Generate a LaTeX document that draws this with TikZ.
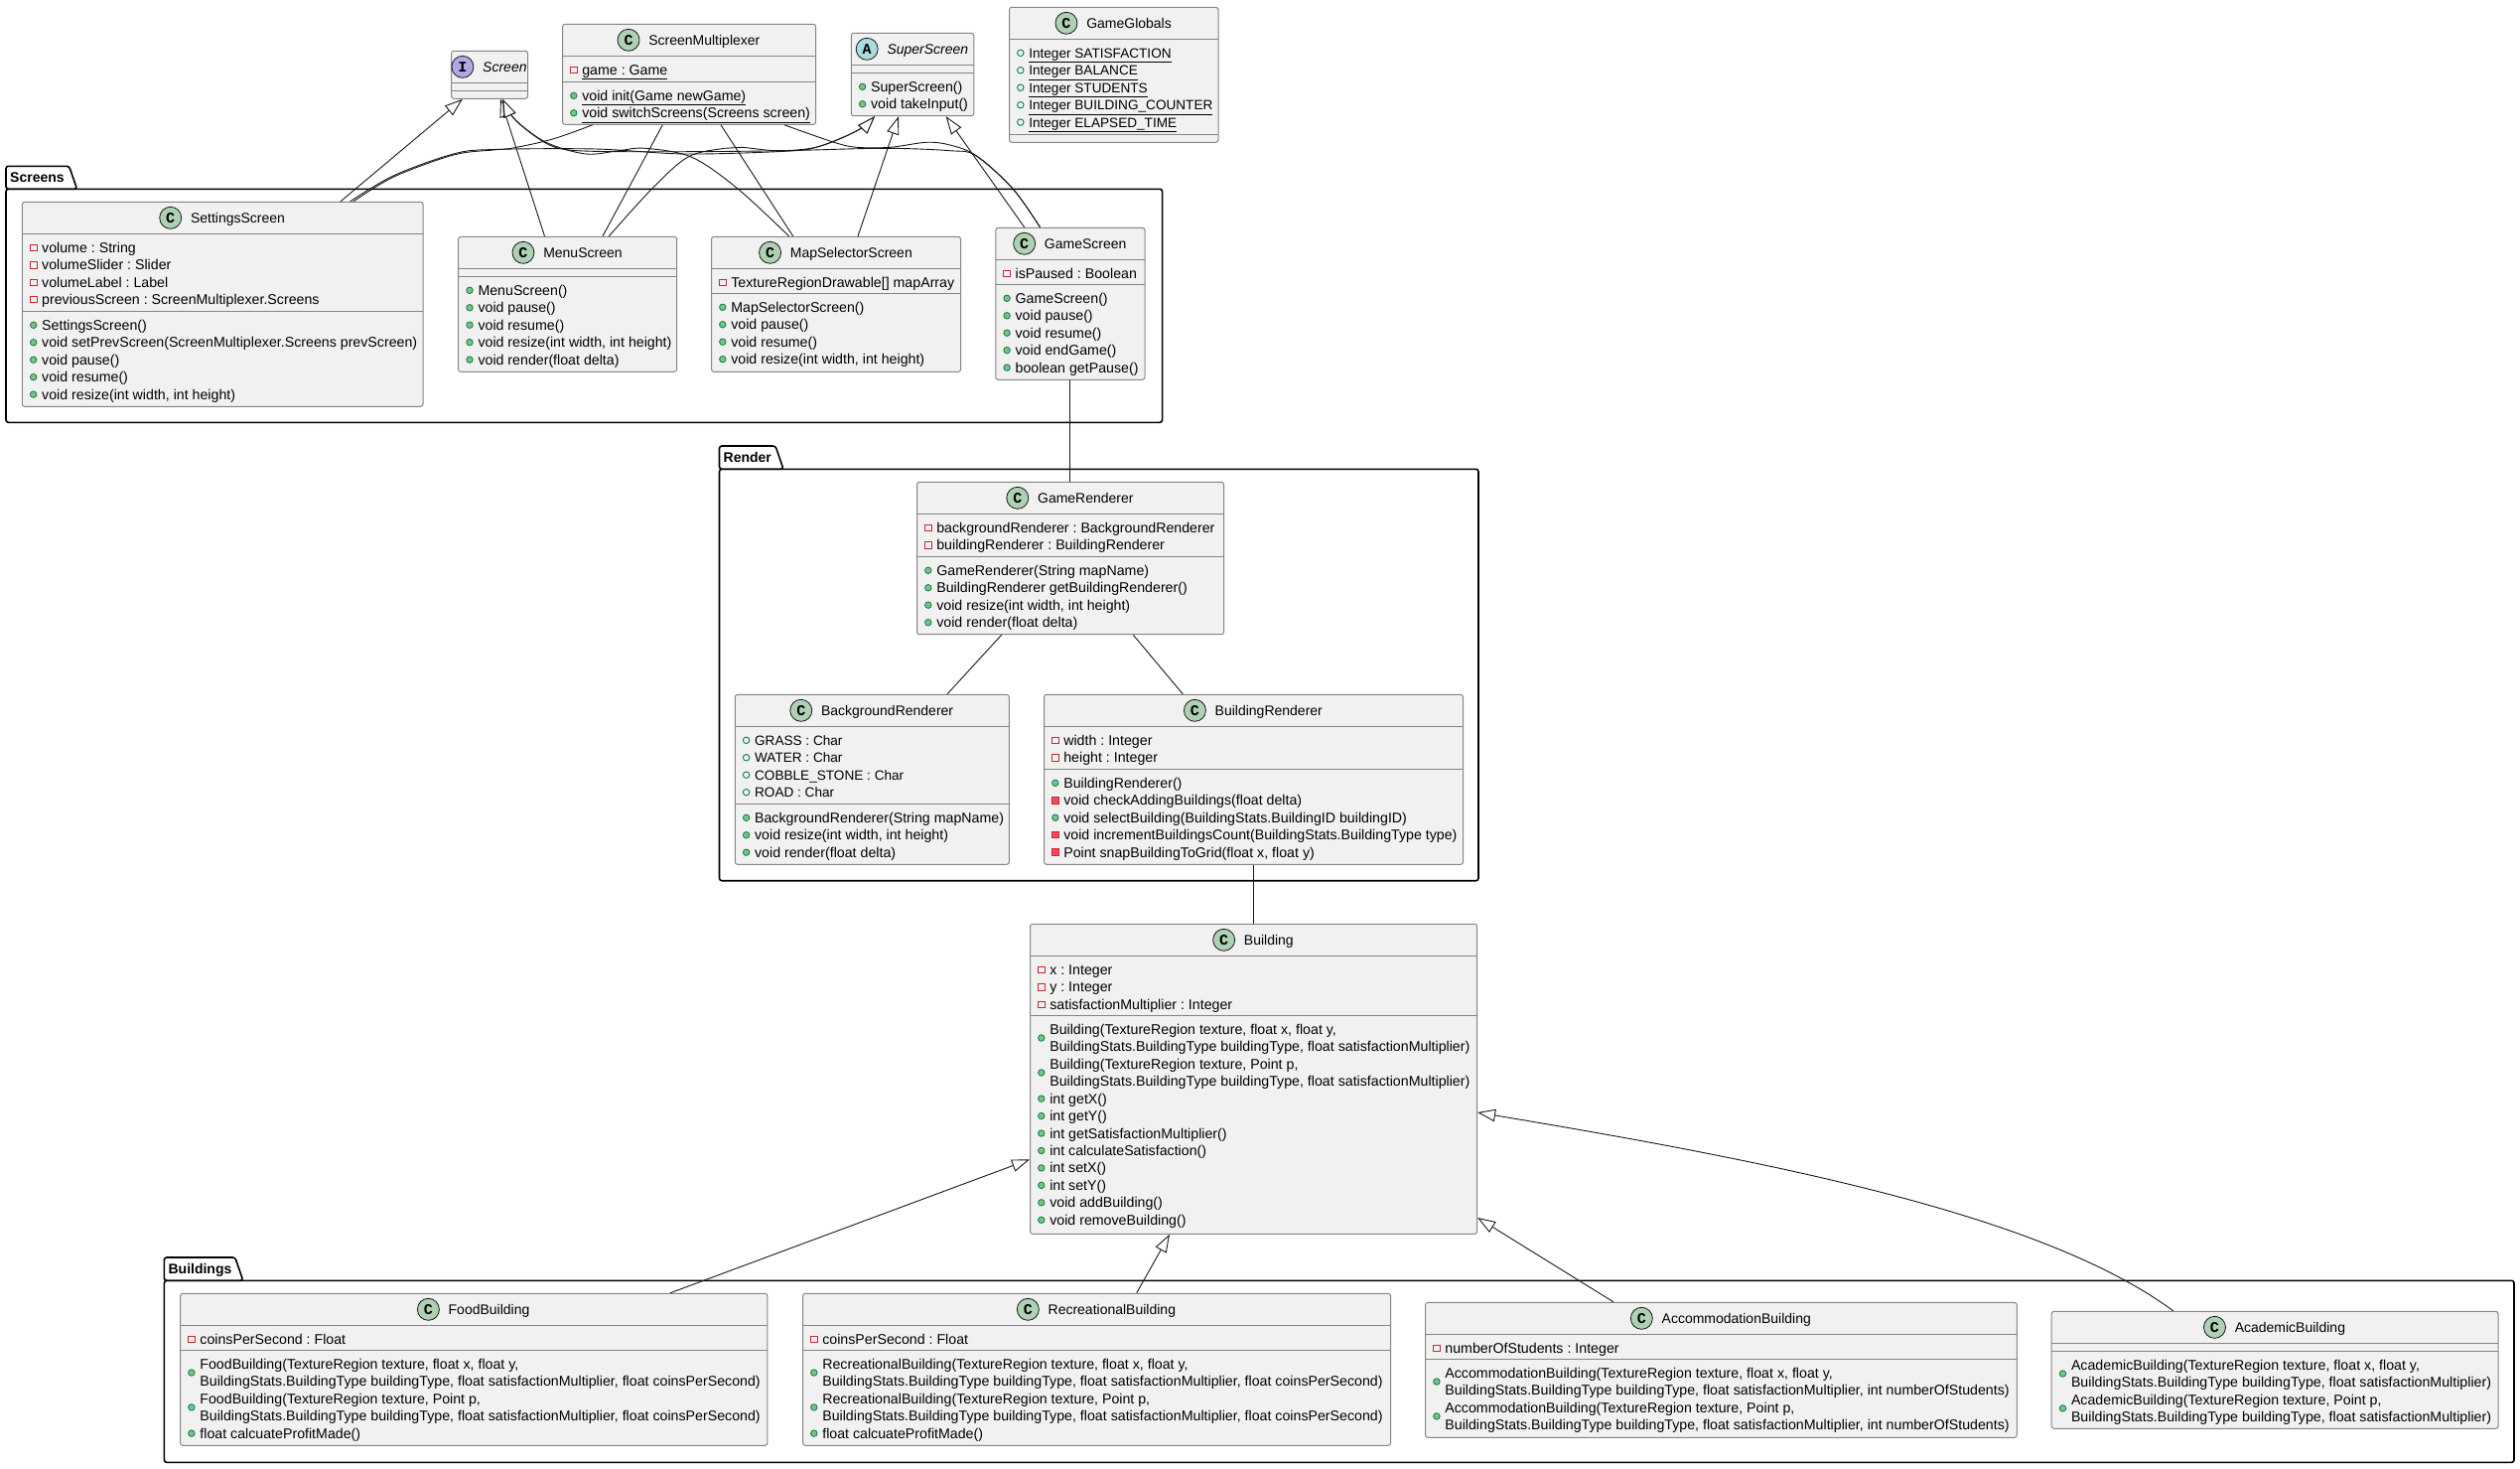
\documentclass[tikz,border=0pt]{standalone}
\usepackage{fontspec}
\setmainfont{Liberation Sans}
\newfontfamily\iconfont{Liberation Mono}
\usetikzlibrary{arrows.meta,positioning}
\definecolor{boxfill}{HTML}{F1F1F1}
\definecolor{boxline}{HTML}{858585}
\definecolor{wireline}{HTML}{181818}
\definecolor{iconcfill}{HTML}{ADD1B2}
\definecolor{iconafill}{HTML}{A9DCDF}
\definecolor{iconifill}{HTML}{B4A7E5}
\definecolor{publine}{HTML}{038048}
\definecolor{pubfill}{HTML}{84BE84}
\definecolor{privline}{HTML}{C82930}
\definecolor{privfill}{HTML}{F24D5C}
\tikzset{
    classbody/.style={draw=boxline, fill=boxfill, line width=1pt, rounded corners=2.5pt, inner sep=0pt},
    sepline/.style={draw=boxline, line width=1pt},
    classname/.style={inner sep=0pt, text height=12pt, text depth=2pt, font=\fontsize{14}{16}\selectfont},
    member/.style={anchor=west, inner sep=0pt, text height=12pt, text depth=2pt, font=\fontsize{14.2}{16}\selectfont\frenchspacing},
    icon/.style={circle, draw=wireline, line width=.8pt, minimum size=22pt, inner sep=0pt, text=black,
        font=\iconfont\fontsize{15}{15}\selectfont\bfseries},
    iconc/.style={icon, fill=iconcfill, node contents={C}},
    icona/.style={icon, fill=iconafill, node contents={A}},
    iconi/.style={icon, fill=iconifill, node contents={I}},
    pub/.style={circle, draw=publine, fill=pubfill, line width=.8pt, minimum size=6.5pt, inner sep=0pt},
    pubtwo/.style={pub, yshift=-8.7pt},
    pubf/.style={circle, draw=publine, line width=.9pt, minimum size=6.5pt, inner sep=0pt},
    priv/.style={rectangle, draw=privline, line width=.9pt, minimum size=6.5pt, inner sep=0pt},
    privm/.style={rectangle, draw=privline, fill=privfill, line width=.9pt, minimum size=6.5pt, inner sep=0pt},
    blank/.style={inner sep=0pt, minimum size=1pt},
    pkgline/.style={draw=black, line width=1.6pt, rounded corners=2.5pt},
    pkgname/.style={anchor=west, inner sep=0pt, text height=12pt, text depth=2pt, font=\fontsize{14}{16}\selectfont\bfseries},
    wire/.style={draw=wireline, line width=.9pt},
    extend/.style={wire, ->},
}

% capitals run a little narrower
\newcommand{\capsrow}[1]{{\fontsize{13.6}{16}\selectfont #1}}
% name, icon, title, x1, y1, x2, y2, first and second separator
\newcommand{\umlclass}[9]{
    \node[classbody, minimum width={(#6-#4)*1pt}, minimum height={(#7-#5)*1pt}] (#1) at ({(#4+#6)/2},{(#5+#7)/2}) {};
    \node[classname] (#1-title) at ({(#4+#6)/2+15.3},{#5+16}) {#3};
    \node[name=#1-icon, #2, left=8.7pt of #1-title];
    \draw[sepline] (#4,#8) -- (#6,#8);
    \draw[sepline] (#4,#9) -- (#6,#9);
}
% name, left of box, y of first row, rows
\newcommand{\umlrows}[4]{
    \foreach \mk/\txt [count=\i] in {#4} {
        \node[\mk] (#1-m\i) at ({#2+11.3},{#3+(\i-1)*17.45}) {};
        \node[member] (#1-t\i) at ({#2+19.6},{#3+(\i-1)*17.45}) {\txt};
    }
}
% name, title, x1, line, x2, bottom, tab top, tab right
\newcommand{\umlpackage}[8]{
    \draw[pkgline] (#3,#7) -- (#8-8,#7) -- (#8,#4) -- (#3,#4) -- cycle;
    \draw[pkgline] (#3,#4) rectangle (#5,#6);
    \node[pkgname] (#1) at ({#3+4},{(#7+#4)/2}) {#2};
}

\begin{document}
\begin{tikzpicture}[x=1pt, y=-1pt, >={Triangle[length=18pt, width=12.5pt, fill=white]}]
    \useasboundingbox (0,0) rectangle (2538,1478);

    \umlpackage{screens}{Screens}{6}{190.3}{1170.6}{425.3}{167.3}{77.6}
    \umlpackage{render}{Render}{724.5}{472.3}{1489}{886.7}{449}{789}
    \umlpackage{buildings}{Buildings}{165.4}{1289.3}{2532}{1472.3}{1266}{244.8}

    \umlclass{Screen}{iconi}{\textit{Screen}}{454.6}{51.3}{531.6}{99.3}{83.3}{91.3}
    \umlclass{Multiplexer}{iconc}{ScreenMultiplexer}{566.5}{24.3}{821.6}{125.3}{56.3}{82.3}
    \umlrows{MultiplexerA}{566.5}{70.3}{priv/\underline{game : Game}}
    \umlrows{MultiplexerB}{566.5}{96.3}{pub/\underline{void init(Game newGame)},
        pub/\underline{void switchScreens(Screens screen)}}
    \umlclass{Super}{icona}{\textit{SuperScreen}}{857.3}{33.3}{980.8}{116.7}{65.3}{73.3}
    \umlrows{Super}{857.3}{87.3}{pub/SuperScreen(), pub/void takeInput()}
    \umlclass{Globals}{iconc}{GameGlobals}{1016.5}{7.3}{1227}{143.3}{39.3}{135.3}
    \umlrows{Globals}{1016.5}{53.3}{pubf/\capsrow{\underline{Integer SATISFACTION}},
        pubf/\capsrow{\underline{Integer BALANCE}},
        pubf/\capsrow{\underline{Integer STUDENTS}},
        pubf/\capsrow{\underline{Integer BUILDING\_COUNTER}},
        pubf/\capsrow{\underline{Integer ELAPSED\_TIME}}}

    \umlclass{Settings}{iconc}{SettingsScreen}{22.4}{203.3}{426}{409.3}{235.3}{313.3}
    \umlrows{SettingsA}{22.4}{249.3}{priv/volume : String, priv/volumeSlider : Slider,
        priv/volumeLabel : Label, priv/previousScreen : ScreenMultiplexer.Screens}
    \umlrows{SettingsB}{22.4}{327.3}{pub/SettingsScreen(),
        pub/void setPrevScreen(ScreenMultiplexer.Screens prevScreen),
        pub/void pause(), pub/void resume(), pub/{void resize(int width, int height)}}
    \umlclass{Menu}{iconc}{MenuScreen}{461.7}{238.3}{681.6}{374.3}{270.3}{278.3}
    \umlrows{Menu}{461.7}{292.3}{pub/MenuScreen(), pub/void pause(), pub/void resume(),
        pub/{void resize(int width, int height)}, pub/void render(float delta)}
    \umlclass{MapSel}{iconc}{MapSelectorScreen}{716.5}{238.3}{967.6}{374.3}{270.3}{295.3}
    \umlrows{MapSelA}{716.5}{284.3}{priv/{TextureRegionDrawable[] mapArray}}
    \umlrows{MapSelB}{716.5}{309.3}{pub/MapSelectorScreen(), pub/void pause(), pub/void resume(),
        pub/{void resize(int width, int height)}}
    \umlclass{GameScr}{iconc}{GameScreen}{1002.8}{229.3}{1153}{382.3}{261.3}{286.3}
    \umlrows{GameScrA}{1002.8}{275.3}{priv/isPaused : Boolean}
    \umlrows{GameScrB}{1002.8}{300.3}{pub/GameScreen(), pub/void pause(), pub/void resume(),
        pub/void endGame(), pub/boolean getPause()}

    \umlclass{GameRen}{iconc}{GameRenderer}{923.5}{485.3}{1232.6}{638.7}{517.3}{560.3}
    \umlrows{GameRenA}{923.5}{531.3}{priv/backgroundRenderer : BackgroundRenderer,
        priv/buildingRenderer : BuildingRenderer}
    \umlrows{GameRenB}{923.5}{574.3}{pub/GameRenderer(String mapName),
        pub/BuildingRenderer getBuildingRenderer(),
        pub/{void resize(int width, int height)}, pub/void render(float delta)}
    \umlclass{BackRen}{iconc}{BackgroundRenderer}{740.3}{699.3}{1016.3}{870.3}{731.3}{809.3}
    \umlrows{BackRenA}{740.3}{745.3}{pubf/\capsrow{GRASS : Char}, pubf/\capsrow{WATER : Char},
        pubf/\capsrow{COBBLE\_STONE : Char}, pubf/\capsrow{ROAD : Char}}
    \umlrows{BackRenB}{740.3}{823.3}{pub/BackgroundRenderer(String mapName),
        pub/{void resize(int width, int height)}, pub/void render(float delta)}
    \umlclass{BuildRen}{iconc}{BuildingRenderer}{1051.5}{699.3}{1473.5}{870.3}{731.3}{774.3}
    \umlrows{BuildRenA}{1051.5}{745.3}{priv/width : Integer, priv/height : Integer}
    \umlrows{BuildRenB}{1051.5}{788.3}{pub/BuildingRenderer(),
        privm/void checkAddingBuildings(float delta),
        pub/void selectBuilding(BuildingStats.BuildingID buildingID),
        privm/void incrementBuildingsCount(BuildingStats.BuildingType type),
        privm/{Point snapBuildingToGrid(float x, float y)}}

    \umlclass{Building}{iconc}{Building}{1037.5}{930.3}{1487.6}{1242.3}{962.3}{1022.3}
    \umlrows{BuildingA}{1037.5}{976.3}{priv/x : Integer, priv/y : Integer,
        priv/satisfactionMultiplier : Integer}
    \umlrows{BuildingB}{1037.5}{1036.3}{pubtwo/{Building(TextureRegion texture, float x, float y,},
        blank/{BuildingStats.BuildingType buildingType, float satisfactionMultiplier)},
        pubtwo/{Building(TextureRegion texture, Point p,},
        blank/{BuildingStats.BuildingType buildingType, float satisfactionMultiplier)},
        pub/int getX(), pub/int getY(), pub/int getSatisfactionMultiplier(),
        pub/int calculateSatisfaction(), pub/int setX(), pub/int setY(),
        pub/void addBuilding(), pub/void removeBuilding()}

    \umlclass{Food}{iconc}{FoodBuilding}{181.6}{1302.3}{772.9}{1455.3}{1334.3}{1359.3}
    \umlrows{FoodA}{181.6}{1348.3}{priv/coinsPerSecond : Float}
    \umlrows{FoodB}{181.6}{1373.3}{pubtwo/{FoodBuilding(TextureRegion texture, float x, float y,},
        blank/{BuildingStats.BuildingType buildingType, float satisfactionMultiplier, float coinsPerSecond)},
        pubtwo/{FoodBuilding(TextureRegion texture, Point p,},
        blank/{BuildingStats.BuildingType buildingType, float satisfactionMultiplier, float coinsPerSecond)},
        pub/float calcuateProfitMade()}
    \umlclass{Recreation}{iconc}{RecreationalBuilding}{808.5}{1302.3}{1400.6}{1455.3}{1334.3}{1359.3}
    \umlrows{RecreationA}{808.5}{1348.3}{priv/coinsPerSecond : Float}
    \umlrows{RecreationB}{808.5}{1373.3}{pubtwo/{RecreationalBuilding(TextureRegion texture, float x, float y,},
        blank/{BuildingStats.BuildingType buildingType, float satisfactionMultiplier, float coinsPerSecond)},
        pubtwo/{RecreationalBuilding(TextureRegion texture, Point p,},
        blank/{BuildingStats.BuildingType buildingType, float satisfactionMultiplier, float coinsPerSecond)},
        pub/float calcuateProfitMade()}
    \umlclass{Accommodation}{iconc}{AccommodationBuilding}{1435.6}{1311.3}{2031.3}{1447.3}{1343.3}{1368.3}
    \umlrows{AccommodationA}{1435.6}{1357.3}{priv/numberOfStudents : Integer}
    \umlrows{AccommodationB}{1435.6}{1382.3}{pubtwo/{AccommodationBuilding(TextureRegion texture, float x, float y,},
        blank/{BuildingStats.BuildingType buildingType, float satisfactionMultiplier, int numberOfStudents)},
        pubtwo/{AccommodationBuilding(TextureRegion texture, Point p,},
        blank/{BuildingStats.BuildingType buildingType, float satisfactionMultiplier, int numberOfStudents)}}
    \umlclass{Academic}{iconc}{AcademicBuilding}{2066.2}{1320.3}{2516}{1438.3}{1352.3}{1360.3}
    \umlrows{Academic}{2066.2}{1374.3}{pubtwo/{AcademicBuilding(TextureRegion texture, float x, float y,},
        blank/{BuildingStats.BuildingType buildingType, float satisfactionMultiplier)},
        pubtwo/{AcademicBuilding(TextureRegion texture, Point p,},
        blank/{BuildingStats.BuildingType buildingType, float satisfactionMultiplier)}}

    % screens
    \draw[extend] (Settings.north -| 343,0) -- (Screen.south -| 465.8,0);
    \draw[extend] (Menu.north -| 548.5,0) -- (Screen.south -| 504,0);
    \draw[extend] plot[smooth, tension=.55] coordinates {(MapSel.north -| 794.6,0) (743,190) (696.7,158.3) (650,149.3)
        (623,151.7) (590,155) (550,143.3) (518.3,120) (Screen.south -| 506.3,0)};
    \draw[extend] plot[smooth, tension=.55] coordinates {(GameScr.north -| 1047.5,0) (1020,190) (983,156.7) (956.7,151.7)
        (890,149.3) (790,151.7) (690,152.7) (597,152.3) (563,149.3) (543,140) (518.3,120) (Screen.south -| 506.3,0)};
    \draw[extend] plot[smooth, tension=.55] coordinates {(Settings.north -| 352.7,0) (396.7,176.7) (456.7,155) (496.7,150.5)
        (600,150) (690,155) (790,152.3) (823,148) (863,131.7) (Super.south -| 881,0)};
    \draw[extend] plot[smooth, tension=.55] coordinates {(Menu.north -| 613.3,0) (656.7,190) (693,158) (730,149.3) (746.7,148.3)
        (783,151.7) (823,148) (863,131.7) (Super.south -| 881,0)};
    \draw[extend] (MapSel.north -| 864,0) -- (Super.south -| 905,0);
    \draw[extend] (GameScr.north -| 1031.7,0) -- (Super.south -| 952.7,0);
    \draw[wire] plot[smooth, tension=.55] coordinates {(Settings.north -| 356,0) (396.7,178) (456.7,156) (496.7,151)
        (516.7,149) (556.7,140) (Multiplexer.south -| 596.7,0)};
    \draw[wire] (Menu.north -| 607,0) -- (Multiplexer.south -| 667.3,0);
    \draw[wire] (MapSel.north -| 798.7,0) -- (Multiplexer.south -| 726,0);
    \draw[wire] plot[smooth, tension=.55] coordinates {(Multiplexer.south -| 790,0) (840,143.3) (863,148.3) (896.7,148.3)
        (933,143.3) (956.7,146) (983,156.7) (1020,190) (GameScr.north -| 1047.5,0)};

    % render
    \draw[wire] (GameScr.south -| 1077.8,0) -- (GameRen.north -| 1077.8,0);
    \draw[wire] (GameRen.south -| 1008.7,0) -- (BackRen.north -| 954,0);
    \draw[wire] (GameRen.south -| 1141.3,0) -- (BuildRen.north -| 1191.3,0);
    \draw[wire] (BuildRen.south -| 1262.2,0) -- (Building.north -| 1262.2,0);

    % buildings
    \draw[extend] (Food.north -| 674.9,0) -- (Building.west |- 0,1167.3);
    \draw[extend] (Recreation.north -| 1144.7,0) -- (Building.south -| 1178,0);
    \draw[extend] (Accommodation.north -| 1625,0) -- (Building.east |- 0,1226);
    \draw[extend] (Academic.north -| 2188.8,0) .. controls (2060,1225) and (1800,1172) .. (Building.east |- 0,1120);
\end{tikzpicture}
\end{document}
